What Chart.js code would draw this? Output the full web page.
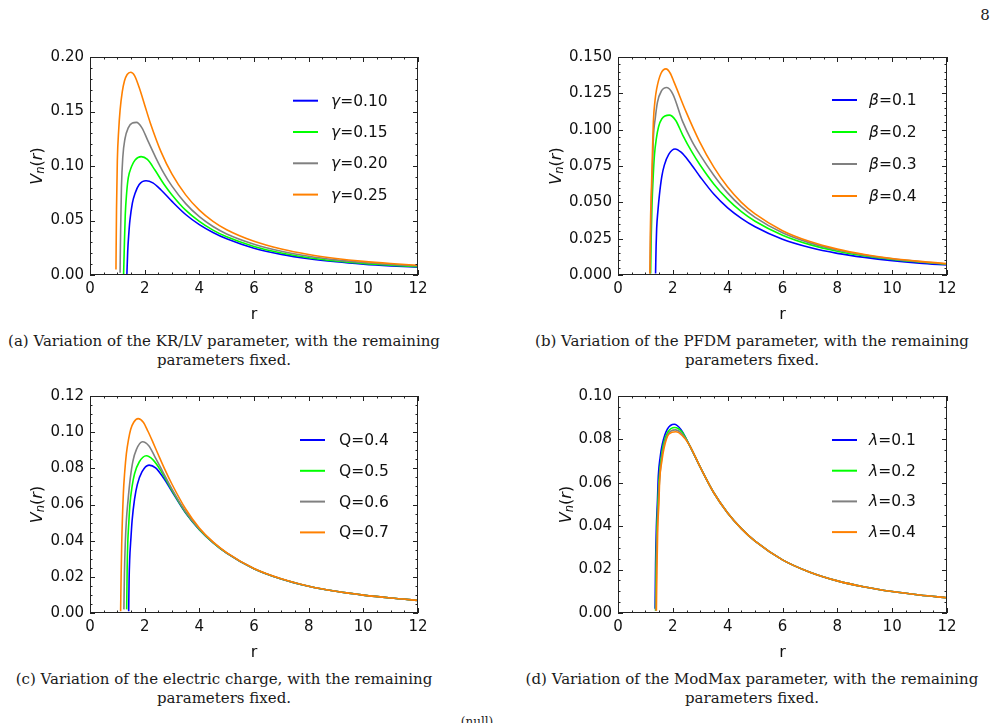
<!DOCTYPE html>
<html>
<head>
<meta charset="utf-8">
<script src="https://cdn.jsdelivr.net/npm/chart.js@4.4.1/dist/chart.umd.min.js"></script>
<style>
  html, body { margin: 0; padding: 0; background: #fff; }
  body { width: 1002px; height: 723px; position: relative; overflow: hidden; }
  canvas { position: absolute; }
  .cap { position: absolute; font-family: "DejaVu Serif", serif; font-size: 15px; line-height: 19px;
         text-align: center; color: #1a1a1a; white-space: nowrap; }
</style>
</head>
<body>
<div class="cap" style="left:965px;top:6px;width:40px;font-size:15px;">8</div>

<canvas id="chartA" width="440" height="290" style="left:0px;top:40px"></canvas>
<canvas id="chartB" width="460" height="290" style="left:520px;top:40px"></canvas>
<canvas id="chartC" width="440" height="290" style="left:0px;top:378px"></canvas>
<canvas id="chartD" width="460" height="290" style="left:520px;top:378px"></canvas>

<div class="cap" style="left:0px;top:332px;width:448px">(a) Variation of the KR/LV parameter, with the remaining<br>parameters fixed.</div>
<div class="cap" style="left:520px;top:332px;width:464px">(b) Variation of the PFDM parameter, with the remaining<br>parameters fixed.</div>
<div class="cap" style="left:0px;top:670px;width:448px">(c) Variation of the electric charge, with the remaining<br>parameters fixed.</div>
<div class="cap" style="left:520px;top:670px;width:464px">(d) Variation of the ModMax parameter, with the remaining<br>parameters fixed.</div>
<div class="cap" style="left:437px;top:713px;width:80px;font-size:12px">(null)</div>

<script>
// colours shared by every panel (legend order)
const lineColors = ["#0000ff", "#00ff00", "#808080", "#ff8000"];

// (a) KR/LV parameter gamma
const labelsA = ["γ=0.10", "γ=0.15", "γ=0.20", "γ=0.25"];
const rA = [
  [1.35, 1.38, 1.42, 1.46, 1.55, 1.65, 1.8, 2.05, 2.3, 2.6, 3.0, 3.5, 4.0, 4.5, 5.0, 6.0, 7.0, 8.0, 9.0, 10.0, 11.0, 12.0],
  [1.23, 1.26, 1.29, 1.34, 1.4, 1.52, 1.65, 1.87, 2.1, 2.37, 2.7, 3.0, 3.5, 4.0, 4.5, 5.0, 6.0, 7.0, 8.0, 9.0, 10.0, 11.0, 12.0],
  [1.10, 1.12, 1.15, 1.2, 1.28, 1.4, 1.55, 1.7, 1.9, 2.12, 2.4, 2.7, 3.0, 3.5, 4.0, 4.5, 5.0, 6.0, 7.0, 8.0, 9.0, 10.0, 11.0, 12.0],
  [0.95, 0.97, 1.0, 1.05, 1.1, 1.18, 1.26, 1.36, 1.49, 1.63, 1.8, 2.0, 2.2, 2.6, 3.0, 3.5, 4.0, 4.5, 5.0, 6.0, 7.0, 8.0, 9.0, 10.0, 11.0, 12.0]
];
const vA = [
  [0.001, 0.022, 0.038, 0.050, 0.066, 0.075, 0.083, 0.0865, 0.0845, 0.078, 0.0675, 0.0555, 0.0462, 0.039, 0.0332, 0.0246, 0.0189, 0.0149, 0.0121, 0.0100, 0.0084, 0.0071],
  [0.001, 0.030, 0.055, 0.075, 0.089, 0.0995, 0.1055, 0.1086, 0.106, 0.0965, 0.0835, 0.0735, 0.0595, 0.0492, 0.0412, 0.0350, 0.0262, 0.0202, 0.0159, 0.0129, 0.0107, 0.0090, 0.0076],
  [0.002, 0.040, 0.080, 0.108, 0.125, 0.135, 0.1395, 0.140, 0.135, 0.123, 0.108, 0.0935, 0.0815, 0.0655, 0.0535, 0.0445, 0.0377, 0.0283, 0.0218, 0.0172, 0.0139, 0.0115, 0.0097, 0.0082],
  [0.005, 0.060, 0.105, 0.133, 0.151, 0.168, 0.178, 0.184, 0.186, 0.183, 0.172, 0.156, 0.140, 0.113, 0.0925, 0.0735, 0.0595, 0.0492, 0.0415, 0.0309, 0.0238, 0.0188, 0.0152, 0.0125, 0.0105, 0.0089]
];

// (b) PFDM parameter beta
const labelsB = ["β=0.1", "β=0.2", "β=0.3", "β=0.4"];
const rB = [
  [1.37, 1.39, 1.41, 1.46, 1.51, 1.6, 1.69, 1.85, 2.08, 2.3, 2.6, 3.0, 3.5, 4.0, 4.5, 5.0, 6.0, 7.0, 8.0, 9.0, 10.0, 11.0, 12.0],
  [1.19, 1.21, 1.24, 1.29, 1.33, 1.4, 1.48, 1.6, 1.87, 2.1, 2.36, 2.7, 3.0, 3.5, 4.0, 4.5, 5.0, 6.0, 7.0, 8.0, 9.0, 10.0, 11.0, 12.0],
  [1.17, 1.19, 1.22, 1.26, 1.29, 1.36, 1.44, 1.58, 1.78, 2.0, 2.36, 2.7, 3.0, 3.5, 4.0, 4.5, 5.0, 6.0, 7.0, 8.0, 9.0, 10.0, 11.0, 12.0],
  [1.165, 1.18, 1.22, 1.26, 1.29, 1.35, 1.41, 1.57, 1.75, 1.9, 2.06, 2.48, 2.97, 3.5, 4.0, 4.5, 5.0, 6.0, 7.0, 8.0, 9.0, 10.0, 11.0, 12.0]
];
const vB = [
  [0.001, 0.020, 0.032, 0.045, 0.055, 0.068, 0.0756, 0.083, 0.0867, 0.0845, 0.078, 0.0675, 0.0555, 0.0462, 0.039, 0.0332, 0.0246, 0.0189, 0.0149, 0.0121, 0.0099, 0.0082, 0.0069],
  [0.001, 0.025, 0.048, 0.070, 0.0826, 0.094, 0.102, 0.1075, 0.110, 0.1065, 0.0963, 0.0845, 0.0755, 0.0625, 0.0520, 0.0436, 0.0370, 0.0274, 0.0209, 0.0164, 0.0131, 0.0107, 0.0089, 0.0074],
  [0.001, 0.025, 0.053, 0.075, 0.094, 0.108, 0.119, 0.1265, 0.129, 0.1245, 0.1055, 0.092, 0.0825, 0.0685, 0.0565, 0.047, 0.0397, 0.0291, 0.0221, 0.0172, 0.0137, 0.0111, 0.0092, 0.0076],
  [0.001, 0.030, 0.060, 0.087, 0.1055, 0.120, 0.128, 0.1388, 0.1418, 0.139, 0.132, 0.1124, 0.092, 0.0740, 0.0605, 0.0500, 0.0420, 0.0305, 0.0230, 0.0178, 0.0141, 0.0114, 0.0094, 0.0078]
];

// (c) electric charge Q
const labelsC = ["Q=0.4", "Q=0.5", "Q=0.6", "Q=0.7"];
const rC = [
  [1.415, 1.43, 1.45, 1.5, 1.54, 1.63, 1.73, 1.9, 2.16, 2.4, 2.7, 3.0, 3.5, 4.0, 4.5, 5.0, 6.0, 7.0, 8.0, 9.0, 10.0, 11.0, 12.0],
  [1.342, 1.36, 1.38, 1.42, 1.46, 1.54, 1.63, 1.8, 2.06, 2.3, 2.6, 3.0, 3.5, 4.0, 4.5, 5.0, 6.0, 7.0, 8.0, 9.0, 10.0, 11.0, 12.0],
  [1.24, 1.26, 1.29, 1.33, 1.39, 1.47, 1.57, 1.7, 1.92, 2.15, 2.37, 2.65, 3.0, 3.5, 4.0, 4.5, 5.0, 6.0, 7.0, 8.0, 9.0, 10.0, 11.0, 12.0],
  [1.12, 1.14, 1.16, 1.22, 1.27, 1.33, 1.41, 1.49, 1.6, 1.76, 1.95, 2.12, 2.3, 2.5, 2.75, 3.0, 3.5, 4.0, 4.5, 5.0, 6.0, 7.0, 8.0, 9.0, 10.0, 11.0, 12.0]
];
const vC = [
  [0.001, 0.018, 0.029, 0.042, 0.051, 0.063, 0.071, 0.078, 0.0818, 0.0803, 0.0745, 0.0672, 0.0553, 0.0461, 0.0389, 0.0331, 0.0245, 0.0188, 0.0148, 0.0120, 0.0099, 0.0083, 0.0070],
  [0.002, 0.025, 0.038, 0.050, 0.060, 0.070, 0.077, 0.0835, 0.087, 0.0848, 0.0785, 0.0678, 0.0556, 0.0462, 0.0389, 0.0331, 0.0245, 0.0188, 0.0148, 0.0120, 0.0099, 0.0083, 0.0070],
  [0.002, 0.022, 0.038, 0.051, 0.062, 0.074, 0.084, 0.0905, 0.0947, 0.0925, 0.0865, 0.0785, 0.0685, 0.0560, 0.0464, 0.0390, 0.0332, 0.0245, 0.0188, 0.0148, 0.0120, 0.0099, 0.0083, 0.0070],
  [0.001, 0.022, 0.038, 0.066, 0.078, 0.088, 0.096, 0.1016, 0.1055, 0.1075, 0.1055, 0.1005, 0.0945, 0.0875, 0.0790, 0.0712, 0.0575, 0.0470, 0.0393, 0.0334, 0.0246, 0.0189, 0.0148, 0.0120, 0.0099, 0.0083, 0.0070]
];

// (d) ModMax parameter lambda (curves merge beyond the peak)
const labelsD = ["λ=0.1", "λ=0.2", "λ=0.3", "λ=0.4"];
const rTailD = [2.6, 3.0, 3.5, 4.0, 4.5, 5.0, 6.0, 7.0, 8.0, 9.0, 10.0, 11.0, 12.0];
const vTailD = [0.0775, 0.0672, 0.0553, 0.0461, 0.0389, 0.0331, 0.0245, 0.0188, 0.0148, 0.0120, 0.0099, 0.0083, 0.0070];
const rD = [
  [1.353, 1.37, 1.40, 1.44, 1.47, 1.54, 1.62, 1.8, 2.05, 2.3].concat(rTailD),
  [1.37, 1.39, 1.42, 1.46, 1.5, 1.57, 1.66, 1.82, 2.07, 2.32].concat(rTailD),
  [1.385, 1.40, 1.43, 1.47, 1.51, 1.58, 1.68, 1.84, 2.09, 2.33].concat(rTailD),
  [1.40, 1.42, 1.45, 1.49, 1.52, 1.6, 1.68, 1.86, 2.11, 2.34].concat(rTailD)
];
const vD = [
  [0.002, 0.022, 0.0395, 0.052, 0.063, 0.072, 0.078, 0.0847, 0.087, 0.0845].concat(vTailD),
  [0.001, 0.022, 0.039, 0.052, 0.062, 0.071, 0.078, 0.0835, 0.0855, 0.0836].concat(vTailD),
  [0.001, 0.020, 0.037, 0.050, 0.060, 0.070, 0.0775, 0.0828, 0.0844, 0.0826].concat(vTailD),
  [0.001, 0.020, 0.0395, 0.050, 0.061, 0.070, 0.076, 0.0825, 0.0835, 0.0818].concat(vTailD)
];

const FONT = "'DejaVu Sans', sans-serif";

// box + inward major/minor ticks on all four sides, axis titles, inner legend
const framePlugin = {
  id: "frame",
  afterDatasetsDraw(chart, args, o) {
    const { ctx, chartArea: a, scales: { x, y } } = chart;
    ctx.save();
    ctx.strokeStyle = "#222";
    ctx.lineWidth = 1;
    ctx.strokeRect(a.left + 0.5, a.top + 0.5, a.right - a.left - 1, a.bottom - a.top - 1);

    const nx = Math.round((x.max - x.min) / o.xMinor);
    for (let i = 0; i <= nx; i++) {
      const px = Math.round(x.getPixelForValue(x.min + i * o.xMinor)) + 0.5;
      const len = i % o.xEvery === 0 ? 5 : 2.5;
      ctx.beginPath();
      ctx.moveTo(px, a.bottom); ctx.lineTo(px, a.bottom - len);
      ctx.moveTo(px, a.top); ctx.lineTo(px, a.top + len);
      ctx.stroke();
    }
    const ny = Math.round((y.max - y.min) / o.yMinor);
    for (let i = 0; i <= ny; i++) {
      const py = Math.round(y.getPixelForValue(y.min + i * o.yMinor)) + 0.5;
      const len = i % o.yEvery === 0 ? 5 : 2.5;
      ctx.beginPath();
      ctx.moveTo(a.left, py); ctx.lineTo(a.left + len, py);
      ctx.moveTo(a.right, py); ctx.lineTo(a.right - len, py);
      ctx.stroke();
    }

    ctx.fillStyle = "#111";
    ctx.textBaseline = "middle";
    // x title
    ctx.font = "16px " + FONT;
    ctx.textAlign = "center";
    ctx.fillText("r", (a.left + a.right) / 2, a.bottom + 40);

    // y title V_n(r)
    const parts = [
      { t: "V", f: "italic 16px " + FONT, dy: 0 },
      { t: "n", f: "italic 11.5px " + FONT, dy: 3.5 },
      { t: "(", f: "16px " + FONT, dy: 0 },
      { t: "r", f: "italic 16px " + FONT, dy: 0 },
      { t: ")", f: "16px " + FONT, dy: 0 }
    ];
    ctx.textAlign = "left";
    let w = 0;
    parts.forEach(p => { ctx.font = p.f; p.w = ctx.measureText(p.t).width; w += p.w; });
    ctx.translate(a.left - o.yTitleGap, (a.top + a.bottom) / 2);
    ctx.rotate(-Math.PI / 2);
    let cx = -w / 2;
    parts.forEach(p => { ctx.font = p.f; ctx.fillText(p.t, cx, p.dy); cx += p.w; });
    ctx.setTransform(1, 0, 0, 1, 0, 0);

    // legend inside the axes
    chart.data.datasets.forEach((ds, i) => {
      const ly = a.top + o.legTop + i * o.legStep;
      ctx.strokeStyle = ds.borderColor;
      ctx.lineWidth = 2;
      ctx.beginPath();
      ctx.moveTo(a.left + o.legX, ly);
      ctx.lineTo(a.left + o.legX + 25, ly);
      ctx.stroke();
      let tx = a.left + o.legText;
      let txt = ds.label;
      ctx.fillStyle = "#111";
      if (txt.charCodeAt(0) > 0x36f) {
        ctx.font = "italic 15.5px " + FONT;
        ctx.fillText(txt[0], tx, ly + 1);
        tx += ctx.measureText(txt[0]).width;
        txt = txt.slice(1);
      }
      ctx.font = "15.5px " + FONT;
      ctx.fillText(txt, tx, ly + 1);
    });
    ctx.restore();
  }
};

function makePanel(id, rSets, vSets, labels, yMax, yStep, yDigits, opts) {
  const datasets = labels.map((lab, i) => ({
    label: lab,
    data: rSets[i].map((r, k) => ({ x: r, y: vSets[i][k] })),
    borderColor: lineColors[i],
    borderWidth: 1.6,
    pointRadius: 0,
    fill: false,
    order: labels.length - i,   // later series drawn on top, as in the original
    cubicInterpolationMode: "monotone"
  }));
  return new Chart(document.getElementById(id), {
    type: "line",
    data: { datasets },
    plugins: [framePlugin],
    options: {
      responsive: false,
      animation: false,
      layout: { padding: { top: opts.padTop, right: opts.padRight, left: 0, bottom: 0 } },
      plugins: { legend: { display: false }, tooltip: { enabled: false }, frame: opts },
      scales: {
        x: {
          type: "linear", min: 0, max: 12,
          grid: { display: false, drawTicks: false },
          border: { display: false },
          ticks: { stepSize: 2, autoSkip: false, maxRotation: 0, padding: 5, color: "#111", font: { family: FONT, size: 15 } },
          afterFit(s) { s.height = 55; }
        },
        y: {
          type: "linear", min: 0, max: yMax,
          grid: { display: false, drawTicks: false },
          border: { display: false },
          ticks: { stepSize: yStep, padding: 6, color: "#111", font: { family: FONT, size: 15 },
                   callback: v => v.toFixed(yDigits) },
          afterFit(s) { s.width = opts.yWidth; }
        }
      }
    }
  });
}

makePanel("chartA", rA, vA, labelsA, 0.20, 0.05, 2,
  { padTop: 17, padRight: 22, yWidth: 90, yTitleGap: 52, xMinor: 0.5, xEvery: 4, yMinor: 0.01, yEvery: 5,
    legX: 203, legText: 241, legTop: 43.7, legStep: 31.3 });
makePanel("chartB", rB, vB, labelsB, 0.15, 0.025, 3,
  { padTop: 17, padRight: 33, yWidth: 98, yTitleGap: 61, xMinor: 0.5, xEvery: 4, yMinor: 0.005, yEvery: 5,
    legX: 214, legText: 251, legTop: 43, legStep: 32 });
makePanel("chartC", rC, vC, labelsC, 0.12, 0.02, 2,
  { padTop: 18, padRight: 22, yWidth: 90, yTitleGap: 52, xMinor: 0.5, xEvery: 4, yMinor: 0.005, yEvery: 4,
    legX: 210, legText: 249, legTop: 44, legStep: 30.8 });
makePanel("chartD", rD, vD, labelsD, 0.10, 0.02, 2,
  { padTop: 18, padRight: 33, yWidth: 98, yTitleGap: 51, xMinor: 0.5, xEvery: 4, yMinor: 0.005, yEvery: 4,
    legX: 214, legText: 251, legTop: 44, legStep: 30.7 });
</script>
</body>
</html>
